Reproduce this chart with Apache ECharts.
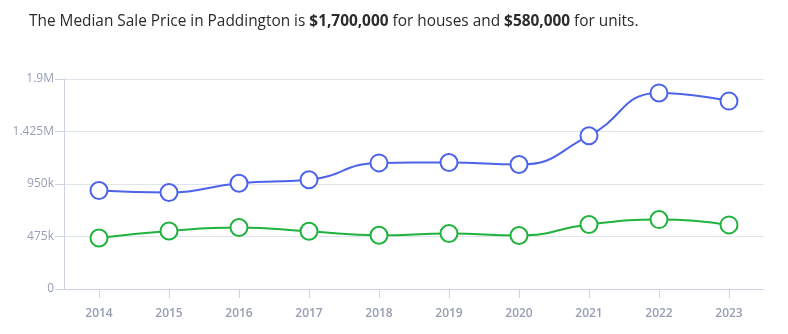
<!DOCTYPE html>
<html>
<head>
<meta charset="utf-8">
<script src="https://cdn.jsdelivr.net/npm/echarts@6/dist/echarts.min.js"></script>
<style>
html,body{margin:0;padding:0;background:#fff;}
#chart{width:788px;height:334px;}
</style>
</head>
<body>
<div id="chart"></div>
<script>
const years = ['2014','2015','2016','2017','2018','2019','2020','2021','2022','2023'];
const houses = [891000, 873000, 957000, 988000, 1141000, 1144000, 1126000, 1387000, 1774000, 1700000];
const units = [462000, 525000, 556000, 522000, 486000, 502000, 484000, 583000, 628000, 580000];
const yTicks = [0, 475000, 950000, 1425000, 1900000];

function fmt(v) {
  if (v === 0) return '0';
  if (v >= 1000000) return (v / 1000000) + 'M';
  return (v / 1000) + 'k';
}

const chart = echarts.init(document.getElementById('chart'));
chart.setOption({
  animation: false,
  title: {
    text: 'The Median Sale Price in Paddington is {b|$1,700,000} for houses and {b|$580,000} for units.',
    left: 24,
    top: 9,
    textStyle: {
      fontFamily: 'Open Sans',
      fontSize: 15.4,
      fontWeight: 'normal',
      color: '#2b2b2b',
      rich: {
        b: { fontFamily: 'Open Sans', fontSize: 15.4, fontWeight: 'bold', color: '#2b2b2b' }
      }
    }
  },
  grid: { left: 64, right: 24, top: 79, bottom: 45, containLabel: false },
  xAxis: {
    type: 'category',
    data: years,
    boundaryGap: true,
    axisLine: { lineStyle: { color: '#cdd4e0', width: 1 } },
    axisTick: { show: true, alignWithLabel: true, length: 9, lineStyle: { color: '#cdd4e0' } },
    axisLabel: { color: '#969eb3', fontSize: 12, fontFamily: 'Open Sans', fontWeight: 600, margin: 19 }
  },
  yAxis: {
    type: 'value',
    min: 0,
    max: 1900000,
    interval: 475000,
    axisLine: { show: true, lineStyle: { color: '#cdd4e0', width: 1 } },
    axisTick: { show: true, length: 9, lineStyle: { color: '#cdd4e0' } },
    axisLabel: {
      color: '#969eb3', fontSize: 12, fontFamily: 'Open Sans', margin: 10,
      formatter: function (v) { return yTicks.indexOf(v) >= 0 ? fmt(v) : ''; }
    },
    splitLine: { show: true, lineStyle: { color: '#dfe3ea', width: 1 } }
  },
  series: [
    {
      name: 'Houses',
      type: 'line',
      data: houses,
      smooth: 0.5,
      symbol: 'circle',
      symbolSize: 17,
      lineStyle: { color: '#4c63ea', width: 2 },
      itemStyle: { color: '#ffffff', borderColor: '#4c63ea', borderWidth: 2 }
    },
    {
      name: 'Units',
      type: 'line',
      data: units,
      smooth: 0.5,
      symbol: 'circle',
      symbolSize: 17,
      lineStyle: { color: '#1fb33d', width: 2 },
      itemStyle: { color: '#ffffff', borderColor: '#1fb33d', borderWidth: 2 }
    }
  ]
});
</script>
</body>
</html>
